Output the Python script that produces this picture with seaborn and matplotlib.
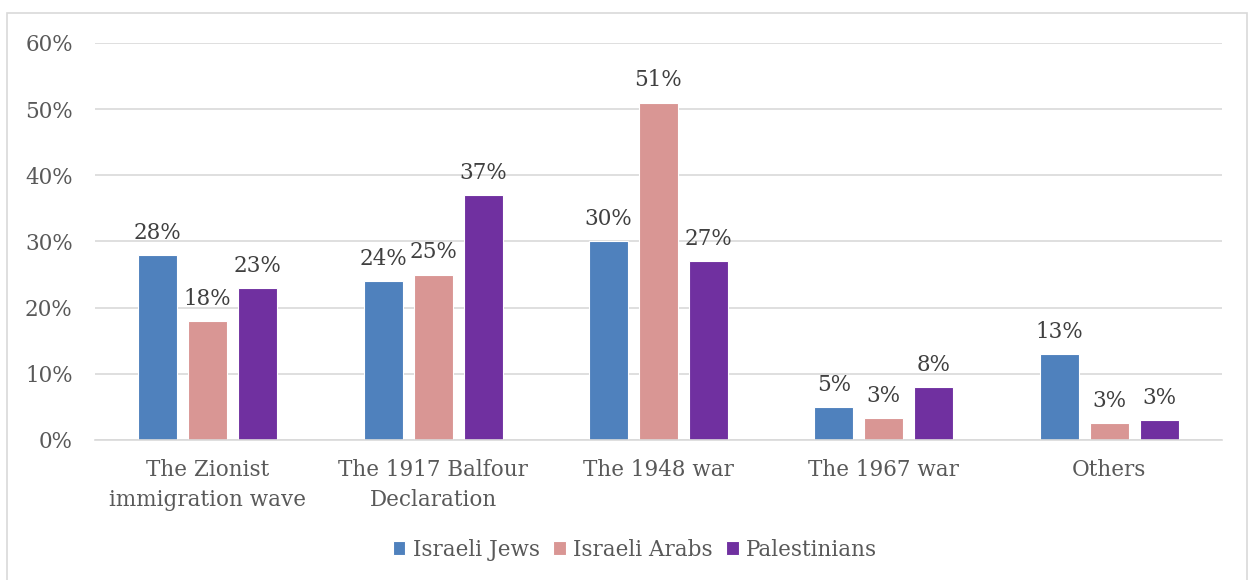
import matplotlib
matplotlib.use("Agg")
import matplotlib.pyplot as plt
import seaborn as sns
import pandas as pd
from matplotlib.patches import Rectangle
from matplotlib.ticker import FuncFormatter

categories = ["The Zionist\nimmigration wave", "The 1917 Balfour\nDeclaration",
              "The 1948 war", "The 1967 war", "Others"]
series = ["Israeli Jews", "Israeli Arabs", "Palestinians"]
israeli_jews = [28, 24, 30, 5, 13]
israeli_arabs = [18, 25, 51, 3.3, 2.6]
palestinians = [23, 37, 27, 8, 3]
colors = ["#4F81BD", "#D99694", "#7030A0"]

rows = []
for s, vals in zip(series, [israeli_jews, israeli_arabs, palestinians]):
    for c, v in zip(categories, vals):
        rows.append({"category": c, "series": s, "value": v})
df = pd.DataFrame(rows)

sns.set_theme(style="white")
plt.rcParams["font.family"] = ["DejaVu Serif"]
text_color = "#595959"

fig = plt.figure(figsize=(12.5, 5.8), dpi=100)
ax = fig.add_axes([0.076, 0.2414, 0.9016, 0.6845])

sns.barplot(data=df, x="category", y="value", hue="series", order=categories,
            hue_order=series, palette=colors, width=0.665, gap=0.22,
            saturation=1, ax=ax, legend=True, edgecolor="#FFFFFF", linewidth=0.8,
            errorbar=None)

ax.set_ylim(0, 60)
ax.set_yticks(range(0, 61, 10))
ax.yaxis.set_major_formatter(FuncFormatter(lambda v, p: f"{int(v)}%"))
ax.grid(axis="y", color="#D9D9D9", linewidth=1.2)
ax.set_axisbelow(True)
for sp in ["top", "right", "left"]:
    ax.spines[sp].set_visible(False)
ax.spines["bottom"].set_color("#D9D9D9")
ax.spines["bottom"].set_linewidth(1.2)
ax.set_xlabel("")
ax.set_ylabel("")
ax.tick_params(axis="both", length=0, labelsize=15.5, colors=text_color)
ax.tick_params(axis="x", pad=14)
ax.tick_params(axis="y", pad=16)
for lab in ax.get_xticklabels():
    lab.set_linespacing(1.45)

for cont in ax.containers:
    labels = [f"{round(b.get_height())}%" for b in cont]
    ax.bar_label(cont, labels=labels, padding=8, fontsize=15.5, color="#404040")

handles, labs = ax.get_legend_handles_labels()
ax.get_legend().remove()
fig.legend(handles, labs, loc="center", bbox_to_anchor=(0.508, 0.052), ncol=3,
           frameon=False, fontsize=15.5, handlelength=0.6, handleheight=0.6,
           handletextpad=0.35, columnspacing=0.6, labelcolor=text_color)

fig.patches.append(Rectangle((7 / 1250, -0.01), 1240 / 1250, 1 - 13 / 580 + 0.01,
                             transform=fig.transFigure, fill=False,
                             edgecolor="#D9D9D9", linewidth=1.2))

fig.savefig("out.png", dpi=100)
